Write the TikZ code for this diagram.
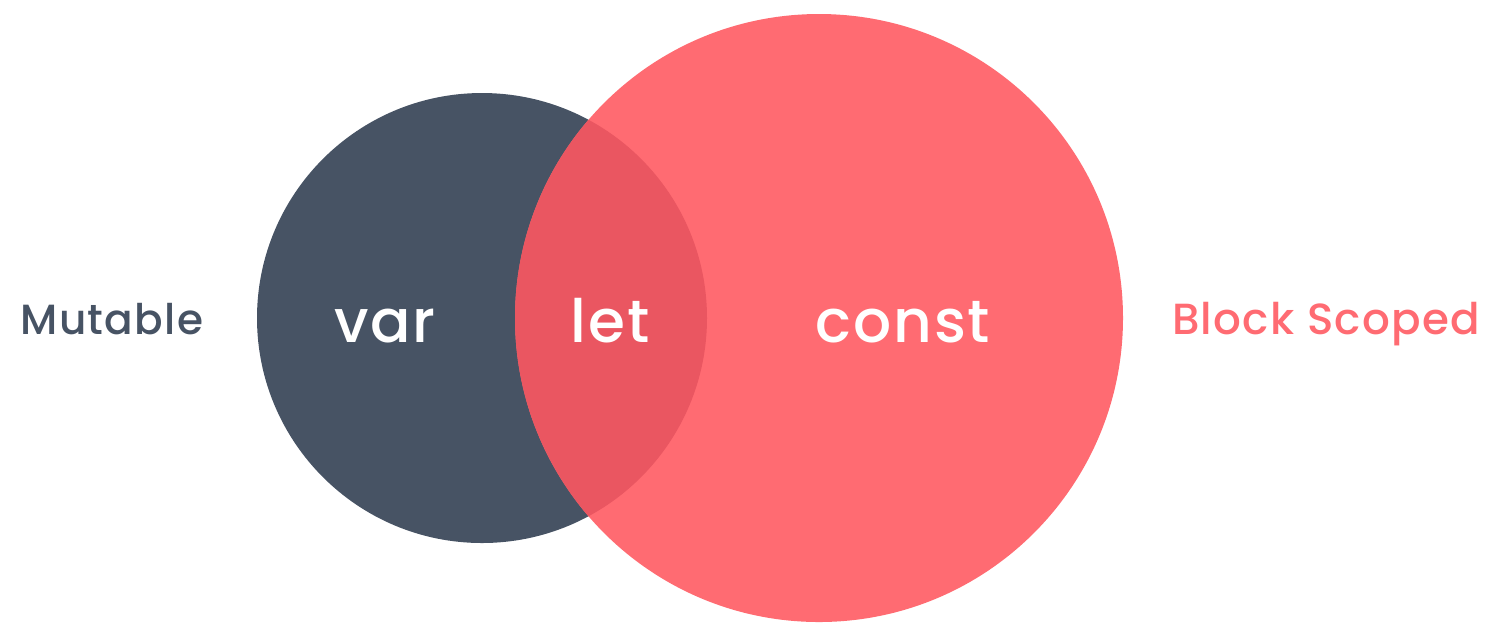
\documentclass[tikz,border=0pt]{standalone}
\usepackage{fontspec}
\setmainfont{Poppins}
\newfontfamily\labelfont{Poppins Medium}[LetterSpace=3]
\newcommand{\Px}{0.01cm}
\definecolor{slate}{HTML}{475364}
\definecolor{coral}{HTML}{FF6B72}
\definecolor{overlap}{HTML}{EA5661}
\tikzset{Word/.style={
    inner sep=0pt,
    anchor=base,
    text=white,
    font={\labelfont\fontsize{17pt}{20}\selectfont}
    },
    Side/.style={
    inner sep=0pt,
    anchor=base,
    font={\labelfont\fontsize{12pt}{14}\selectfont}
    }
}

\begin{document}
\begin{tikzpicture}[x=\Px, y=-\Px]
\useasboundingbox (0,0) rectangle (1509,623);
\fill[slate] (482,318) circle[radius=225];
\fill[coral] (819,318) circle[radius=304];
\begin{scope}
\clip (482,318) circle[radius=225];
\fill[overlap] (819,318) circle[radius=304];
\end{scope}
\node [Word] (var) at (385,342) {var};
\node [Word] (let) at (610,342) {let};
\node [Word] (const) at (903,342) {const};
\node [Side, text=slate] (mutable) at (112,334) {Mutable};
\node [Side, text=coral, font={\labelfont\fontsize{12.4pt}{14}\selectfont}] (block) at (1326,334) {Block Scoped};
\end{tikzpicture}
\end{document}
